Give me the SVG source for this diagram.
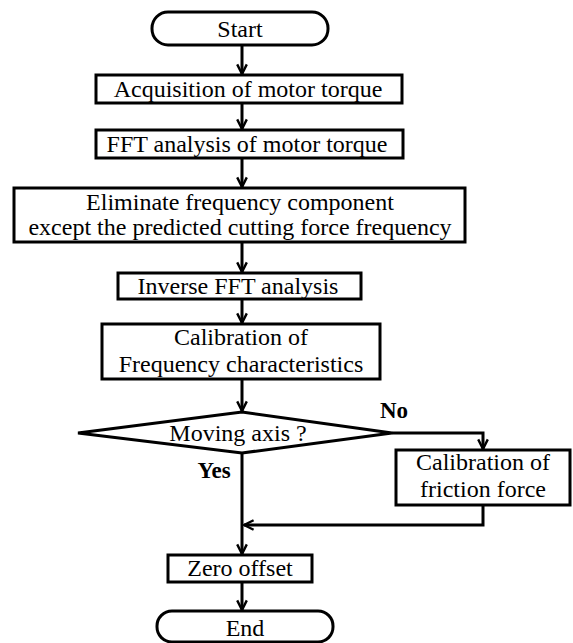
<svg xmlns="http://www.w3.org/2000/svg" width="573" height="643" viewBox="0 0 573 643">
<style>
.box{fill:#fff;stroke:#000;stroke-width:3}
.t{font-family:"Liberation Serif","Times New Roman",serif;font-size:24px;fill:#000;text-anchor:middle}
.b{font-weight:bold;font-size:23px}
.c{fill:none;stroke:#000;stroke-width:3}
</style>
<defs>
<marker id="ah" viewBox="0 0 10 10" refX="9" refY="5" markerWidth="4" markerHeight="4" markerUnits="strokeWidth" orient="auto">
<path d="M1,1 L9,5 L1,9" fill="none" stroke="#000" stroke-width="2"/>
</marker>
</defs>
<rect width="573" height="643" fill="#fff"/>
<g id="connectors">
<line class="c" x1="242" y1="45" x2="242" y2="74" marker-end="url(#ah)"/>
<line class="c" x1="242" y1="103" x2="242" y2="129" marker-end="url(#ah)"/>
<line class="c" x1="242" y1="158" x2="242" y2="187" marker-end="url(#ah)"/>
<line class="c" x1="242" y1="242" x2="242" y2="272" marker-end="url(#ah)"/>
<line class="c" x1="242" y1="299" x2="242" y2="323" marker-end="url(#ah)"/>
<line class="c" x1="242" y1="379" x2="242" y2="411" marker-end="url(#ah)"/>
<polyline class="c" points="392,433 483,433 483,449" marker-end="url(#ah)"/>
<polyline class="c" points="483,505 483,525 244,525" marker-end="url(#ah)"/>
<line class="c" x1="242" y1="453" x2="242" y2="554" marker-end="url(#ah)"/>
<line class="c" x1="242" y1="582" x2="242" y2="610" marker-end="url(#ah)"/>
</g>
<g id="start">
<rect class="box" x="152" y="12" width="176" height="33" rx="16"/>
<text class="t" x="240" y="37">Start</text>
</g>
<g id="acq">
<rect class="box" x="96" y="75" width="306" height="28"/>
<text class="t" x="248" y="97">Acquisition of motor torque</text>
</g>
<g id="fft">
<rect class="box" x="96" y="130" width="307" height="28"/>
<text class="t" x="247" y="152">FFT analysis of motor torque</text>
</g>
<g id="elim">
<rect class="box" x="14" y="188" width="451" height="54"/>
<text class="t" x="240" y="210">Eliminate frequency component</text>
<text class="t" x="240" y="235">except the predicted cutting force frequency</text>
</g>
<g id="ifft">
<rect class="box" x="118" y="273" width="243" height="26"/>
<text class="t" x="238" y="294">Inverse FFT analysis</text>
</g>
<g id="calfreq">
<rect class="box" x="102" y="324" width="278" height="55"/>
<text class="t" x="241" y="345">Calibration of</text>
<text class="t" x="241" y="372">Frequency characteristics</text>
</g>
<g id="decision">
<polygon class="box" points="242,412 392,433 242,453 78,433"/>
<text class="t" x="238" y="441">Moving axis ?</text>
</g>
<g id="labels">
<text class="t b" x="394" y="418">No</text>
<text class="t b" x="214" y="478">Yes</text>
</g>
<g id="calfric">
<rect class="box" x="396" y="450" width="174" height="55"/>
<text class="t" x="483" y="470">Calibration of</text>
<text class="t" x="483" y="497">friction force</text>
</g>
<g id="zero">
<rect class="box" x="168" y="555" width="144" height="27"/>
<text class="t" x="240" y="576">Zero offset</text>
</g>
<g id="end">
<rect class="box" x="157" y="611" width="176" height="31" rx="15"/>
<text class="t" x="245" y="636">End</text>
</g>
</svg>
